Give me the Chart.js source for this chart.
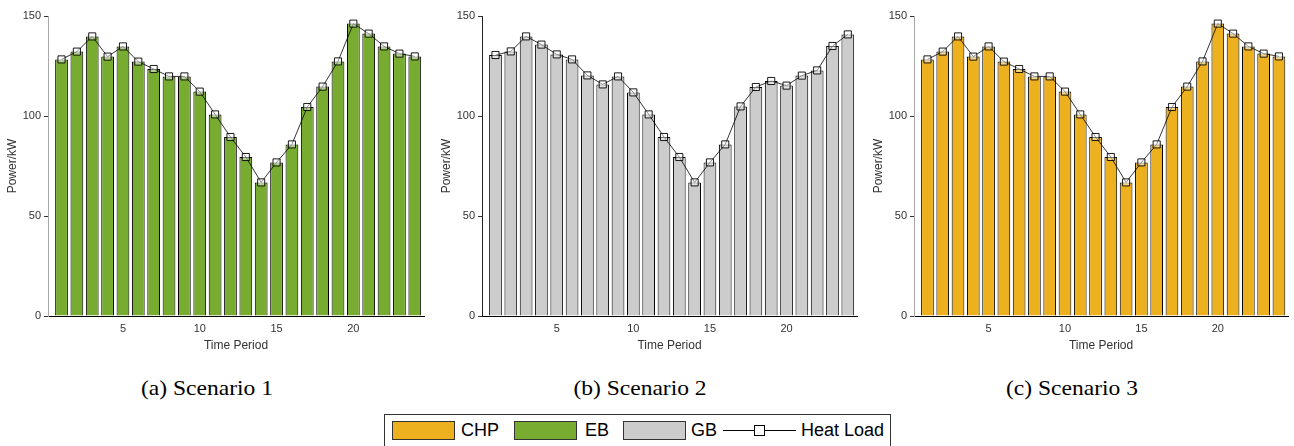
<!DOCTYPE html>
<html>
<head>
<meta charset="utf-8">
<script src="https://cdn.jsdelivr.net/npm/chart.js@4/dist/chart.umd.min.js"></script>
<style>
  html,body{margin:0;padding:0;background:#fff;}
  #wrap{position:relative;width:1294px;height:446px;overflow:hidden;background:#fff;}
  canvas{position:absolute;top:0;}
  .cap{position:absolute;top:376px;font-family:"Liberation Serif","Times New Roman",serif;font-size:21px;color:#000;white-space:nowrap;transform:translateX(-50%) scaleX(1.12);}
  #legend{position:absolute;left:384px;top:414px;width:507px;height:40px;border:1px solid #333;box-sizing:border-box;font-family:"Liberation Sans",Arial,sans-serif;font-size:18px;color:#000;}
  .sw{position:absolute;top:6px;width:63px;height:19px;box-sizing:border-box;border:1px solid #333;}
  .lt{position:absolute;top:4px;line-height:22px;white-space:nowrap;}
</style>
</head>
<body>
<div id="wrap">
  <canvas id="c1" width="432" height="360" style="left:0px"></canvas>
  <canvas id="c2" width="430" height="360" style="left:434px"></canvas>
  <canvas id="c3" width="428" height="360" style="left:866px"></canvas>
  <div class="cap" style="left:207px">(a) Scenario 1</div>
  <div class="cap" style="left:640px">(b) Scenario 2</div>
  <div class="cap" style="left:1072px">(c) Scenario 3</div>
  <div id="legend"></div>
</div>
<script>
// ---------------- data ----------------
const periods = [1,2,3,4,5,6,7,8,9,10,11,12,13,14,15,16,17,18,19,20,21,22,23,24];
const xTickValues = [5,10,15,20];
const yTickValues = [0,50,100,150];

// Scenario 1: electric boiler supplies heat
const ebScenario1   = [128.3,132.2,139.8,129.7,134.8,127.2,123.5,119.8,119.8,112.2,100.8,89.5,79.5,66.8,76.8,85.8,104.5,114.7,127.3,146.2,141.2,134.8,131.2,129.8];
const loadScenario1 = [128.3,132.2,139.8,129.7,134.8,127.2,123.5,119.8,119.8,112.2,100.8,89.5,79.5,66.8,76.8,85.8,104.5,114.7,127.3,146.2,141.2,134.8,131.2,129.8];
// Scenario 2: gas boiler supplies heat
const gbScenario2   = [130.5,132.3,139.8,135.7,130.8,128.3,120.3,115.8,119.8,111.8,100.8,89.5,79.5,66.8,76.8,85.8,104.8,114.5,117.5,115.2,120.2,122.8,135.0,140.8];
const loadScenario2 = [130.5,132.3,139.8,135.7,130.8,128.3,120.3,115.8,119.8,111.8,100.8,89.5,79.5,66.8,76.8,85.8,104.8,114.5,117.5,115.2,120.2,122.8,135.0,140.8];
// Scenario 3: CHP supplies heat
const chpScenario3  = [128.3,132.2,139.8,129.7,134.8,127.2,123.5,119.8,119.8,112.2,100.8,89.5,79.5,66.8,76.8,85.8,104.5,114.7,127.3,146.2,141.2,134.8,131.2,129.8];
const loadScenario3 = [128.3,132.2,139.8,129.7,134.8,127.2,123.5,119.8,119.8,112.2,100.8,89.5,79.5,66.8,76.8,85.8,104.5,114.7,127.3,146.2,141.2,134.8,131.2,129.8];

const seriesNames = ['CHP','EB','GB','Heat Load'];
const seriesColors = {CHP:'#EDB120', EB:'#77AC30', GB:'#CCCCCC'};

// ---------------- helpers ----------------
const toXY = (vals) => periods.map((p,i)=>({x:p, y:vals[i]}));
const FONT = '"Liberation Sans", Arial, sans-serif';
const TXT = '#333333';

function makeChart(id, barName, barVals, loadVals, plotWidth, yAxisColor){
  const cv = document.getElementById(id);
  const W = cv.width, H = cv.height;
  const axisLeft = 48, chartTop = 16, chartBottom = 316;
  return new Chart(cv, {
    data: {
      datasets: [
        {
          type:'line', label:'Heat Load', data: toXY(loadVals), order:0,
          borderColor:'#000', borderWidth:0.8, backgroundColor:'rgba(255,255,255,0.45)',
          pointStyle:'rect', pointRadius:5, pointBorderWidth:0.9, pointBorderColor:'#000',
          pointBackgroundColor:'rgba(255,255,255,0.45)', tension:0, fill:false
        },
        {
          type:'bar', label:barName, data: toXY(barVals), order:1,
          backgroundColor: seriesColors[barName], borderColor:'#000', borderWidth:1,
          barPercentage:0.83, categoryPercentage:1.0
        }
      ]
    },
    options: {
      responsive:false, animation:false, devicePixelRatio:1,
      layout:{padding:{left:0, top:chartTop, right: W - axisLeft - plotWidth, bottom:0}},
      plugins:{legend:{display:false}, tooltip:{enabled:false}},
      scales:{
        x:{
          type:'linear', min:0.12, max:24.6, offset:false,
          afterBuildTicks:(s)=>{ s.ticks = xTickValues.map(v=>({value:v})); },
          afterFit:(s)=>{ s.height = H - chartBottom; },
          grid:{display:true, drawOnChartArea:false, drawTicks:false, offset:false},
          border:{display:true, color:'#000', width:1},
          ticks:{color:TXT, font:{family:FONT, size:11}, padding:6, maxRotation:0, autoSkip:false},
          title:{display:true, text:'Time Period', color:TXT, font:{family:FONT, size:12}, padding:{top:0,bottom:7}}
        },
        y:{
          type:'linear', min:0, max:150,
          afterBuildTicks:(s)=>{ s.ticks = yTickValues.map(v=>({value:v})); },
          afterFit:(s)=>{ s.width = axisLeft; },
          grid:{display:true, drawOnChartArea:false, drawTicks:true, tickLength:4, tickColor:'#333', color:'#333'},
          border:{display:true, color:yAxisColor, width:1},
          ticks:{color:TXT, font:{family:FONT, size:11}, padding:3},
          title:{display:true, text:'Power/kW', color:TXT, font:{family:FONT, size:12}, padding:{top:5,bottom:0}}
        }
      }
    }
  });
}

makeChart('c1','EB', ebScenario1, loadScenario1, 376, '#a8a8a8');
makeChart('c2','GB', gbScenario2, loadScenario2, 375, '#222222');
makeChart('c3','CHP', chpScenario3, loadScenario3, 376, '#a8a8a8');

// ---------------- legend ----------------
const lg = document.getElementById('legend');
const items = [
  {name:seriesNames[0], kind:'bar', sw:7,   tx:76},
  {name:seriesNames[1], kind:'bar', sw:129, tx:200},
  {name:seriesNames[2], kind:'bar', sw:238, tx:306},
  {name:seriesNames[3], kind:'line', sw:338, tx:416}
];
items.forEach(it=>{
  if(it.kind==='bar'){
    const s=document.createElement('div'); s.className='sw';
    s.style.left=it.sw+'px'; s.style.background=seriesColors[it.name]; lg.appendChild(s);
  } else {
    const l=document.createElement('div');
    l.style.cssText='position:absolute;top:15px;left:'+it.sw+'px;width:73px;height:1px;background:#000;';
    lg.appendChild(l);
    const m=document.createElement('div');
    m.style.cssText='position:absolute;top:10px;left:'+(it.sw+31)+'px;width:11px;height:11px;box-sizing:border-box;border:1px solid #000;background:#fff;';
    lg.appendChild(m);
  }
  const t=document.createElement('div'); t.className='lt'; t.style.left=it.tx+'px'; t.textContent=it.name; lg.appendChild(t);
});
</script>
</body>
</html>
